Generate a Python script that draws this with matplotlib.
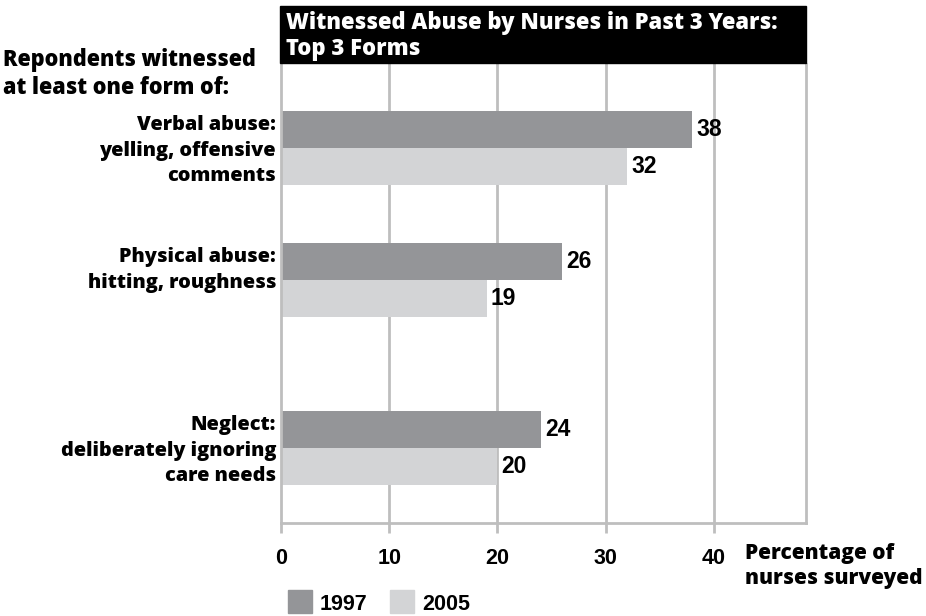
import matplotlib
matplotlib.use("Agg")
import matplotlib.pyplot as plt
from matplotlib.patches import Rectangle

# ---- data ----
categories = ["Verbal abuse:\nyelling, offensive\ncomments",
              "Physical abuse:\nhitting, roughness",
              "Neglect:\ndeliberately ignoring\ncare needs"]
series_names = ["1997", "2005"]
values_1997 = [38, 26, 24]
values_2005 = [32, 19, 20]
x_ticks = [0, 10, 20, 30, 40]
title_lines = "Witnessed Abuse by Nurses in Past 3 Years:\nTop 3 Forms"
y_heading = "Repondents witnessed\nat least one form of:"
x_heading = "Percentage of\nnurses surveyed"

# ---- layout (pixels) ----
W, H = 926, 616
c1997 = "#949598"
c2005 = "#d3d4d6"
grid_c = "#bebebe"
label_font = "Open Sans"
label_w = 800
num_font = "Liberation Sans"

ax_left, ax_right, ax_top, ax_bot = 281, 806, 64, 523
group_mid = [148, 280, 448]   # boundary between the two bars of each group
bar_h = 37
xmax = 48.5

fig = plt.figure(figsize=(W / 100, H / 100), dpi=100)
ax = fig.add_axes([ax_left / W, 1 - ax_bot / H, (ax_right - ax_left) / W, (ax_bot - ax_top) / H])
ax.set_xlim(0, xmax)
ax.set_ylim(ax_bot, ax_top)   # y data in pixel rows

ax.spines["top"].set_visible(False)
for s in ["left", "right", "bottom"]:
    ax.spines[s].set_color(grid_c)
    ax.spines[s].set_linewidth(2)

ax.set_xticks(x_ticks)
ax.set_xticklabels([str(t) for t in x_ticks], fontfamily=num_font, fontweight="bold", fontsize=15.5)
ax.tick_params(axis="x", length=7, width=2, color=grid_c, pad=11)
ax.set_yticks([])
for t in x_ticks[1:]:
    ax.axvline(t, color=grid_c, lw=2, zorder=0)

y1997 = [m - bar_h / 2 for m in group_mid]
y2005 = [m + bar_h / 2 for m in group_mid]
ax.barh(y1997, values_1997, height=bar_h, color=c1997, zorder=2)
ax.barh(y2005, values_2005, height=bar_h, color=c2005, zorder=2)

for ys, vals in [(y1997, values_1997), (y2005, values_2005)]:
    for y, v in zip(ys, vals):
        ax.annotate(str(v), (v, y), xytext=(3, 0), textcoords="offset points",
                    va="center", ha="left", fontfamily=num_font, fontweight="bold", fontsize=16.5)

# category labels, top aligned with the 1997 bar
for cat, m in zip(categories, group_mid):
    ax.text(-5 / 10.83, m - bar_h + 4, cat, ha="right", va="top", fontfamily=label_font,
            fontweight=label_w, fontsize=14.3, linespacing=1.38, clip_on=False)

def px(x, y):
    return x / W, 1 - y / H

# title box
fig.patches.append(Rectangle(px(280, 63), (806 - 280) / W, (63 - 6) / H,
                             transform=fig.transFigure, color="black", zorder=0))
fig.text(*px(286, 36), title_lines, color="white", ha="left", va="center",
         fontfamily=label_font, fontweight=label_w, fontsize=15.8, linespacing=1.1)

fig.text(*px(3, 74), y_heading, ha="left", va="center", fontfamily=label_font,
         fontweight=label_w, fontsize=15.6, linespacing=1.25)
fig.text(*px(745, 566), x_heading, ha="left", va="center", fontfamily=label_font,
         fontweight=label_w, fontsize=15.0, linespacing=1.28)

# legend
for x0, col, name in [(288, c1997, series_names[0]), (390, c2005, series_names[1])]:
    fig.patches.append(Rectangle(px(x0, 613), 24 / W, 23 / H, transform=fig.transFigure,
                                 color=col))
    fig.text(*px(x0 + 32, 605), name, ha="left", va="center", fontfamily=num_font,
             fontweight="bold", fontsize=15.5)

fig.savefig("out.png", dpi=100)
